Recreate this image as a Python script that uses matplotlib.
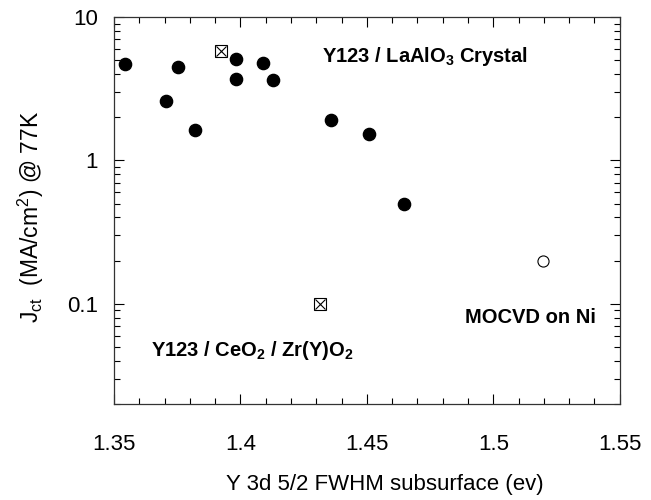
import numpy as np
import matplotlib
matplotlib.use("Agg")
import matplotlib.pyplot as plt
from matplotlib.ticker import MultipleLocator, LogLocator, NullFormatter, FixedFormatter, FixedLocator

plt.rcParams["font.family"] = ["Liberation Sans", "DejaVu Sans"]
plt.rcParams["mathtext.fontset"] = "custom"
plt.rcParams["mathtext.rm"] = "Liberation Sans"
plt.rcParams["mathtext.bf"] = "Liberation Sans:bold"

# Y123 / LaAlO3 crystal (filled circles)
fwhm_crystal = [1.3544, 1.3705, 1.3752, 1.3821, 1.3981, 1.3981, 1.4090, 1.4130, 1.4360, 1.4509, 1.4648]
jct_crystal = [4.67, 2.61, 4.45, 1.64, 5.06, 3.71, 4.77, 3.61, 1.90, 1.52, 0.50]

# Y123 / CeO2 / Zr(Y)O2 (crossed squares)
fwhm_buffer = [1.3923, 1.4314]
jct_buffer = [5.78, 0.10]

# MOCVD on Ni (open circle)
fwhm_mocvd = [1.5197]
jct_mocvd = [0.20]

x_ticks = [1.35, 1.40, 1.45, 1.50, 1.55]
x_labels = ["1.35", "1.4", "1.45", "1.5", "1.55"]
y_ticks = [0.1, 1, 10]
y_labels = ["0.1", "1", "10"]

fig = plt.figure(figsize=(6.51, 5.0), dpi=100)
ax = fig.add_axes([0.175, 0.192, 0.777, 0.774])

ax.plot(fwhm_crystal, jct_crystal, "o", color="black", markersize=8.8, linestyle="none")
ax.plot(fwhm_buffer, jct_buffer, "s", mfc="white", mec="black", mew=0.8, markersize=9, linestyle="none")
ax.plot(fwhm_buffer, jct_buffer, "x", color="black", mew=0.8, markersize=7, linestyle="none")
ax.plot(fwhm_mocvd, jct_mocvd, "o", mfc="white", mec="black", mew=0.8, markersize=8, linestyle="none")

ax.set_yscale("log")
ax.set_xlim(1.35, 1.55)
ax.set_ylim(0.02, 10)

ax.xaxis.set_major_locator(FixedLocator(x_ticks))
ax.xaxis.set_major_formatter(FixedFormatter(x_labels))
ax.xaxis.set_minor_locator(MultipleLocator(0.01))
ax.yaxis.set_major_locator(FixedLocator(y_ticks))
ax.yaxis.set_major_formatter(FixedFormatter(y_labels))
ax.yaxis.set_minor_locator(LogLocator(base=10, subs=np.arange(2, 10)))
ax.yaxis.set_minor_formatter(NullFormatter())

ax.tick_params(which="both", direction="in", top=True, right=True, width=0.8, colors="black")
ax.tick_params(which="major", length=7)
ax.tick_params(which="minor", length=4)
ax.tick_params(axis="x", which="major", pad=21.5, labelsize=16)
ax.tick_params(axis="y", which="major", pad=11.5, labelsize=16)
for s in ax.spines.values():
    s.set_linewidth(0.9)
    s.set_color("#333333")

ax.set_xlabel("Y 3d 5/2 FWHM subsurface (ev)", fontsize=16)
ax.xaxis.set_label_coords(0.535, -0.18)
ax.set_ylabel(r"J$_{\rm ct}$  (MA/cm$^2$) @ 77K", fontsize=16.5)
ax.yaxis.set_label_coords(-0.134, 0.483)

ax.text(1.4321, 4.89, r"Y123 / LaAlO$_\mathbf{3}$ Crystal", fontsize=14.5, fontweight="bold", va="baseline")
ax.text(1.4887, 0.0734, "MOCVD on Ni", fontsize=14.5, fontweight="bold", va="baseline")
ax.text(1.3645, 0.0431, r"Y123 / CeO$_\mathbf{2}$ / Zr(Y)O$_\mathbf{2}$", fontsize=14.5, fontweight="bold", va="baseline")

fig.savefig("out.png", dpi=100)
